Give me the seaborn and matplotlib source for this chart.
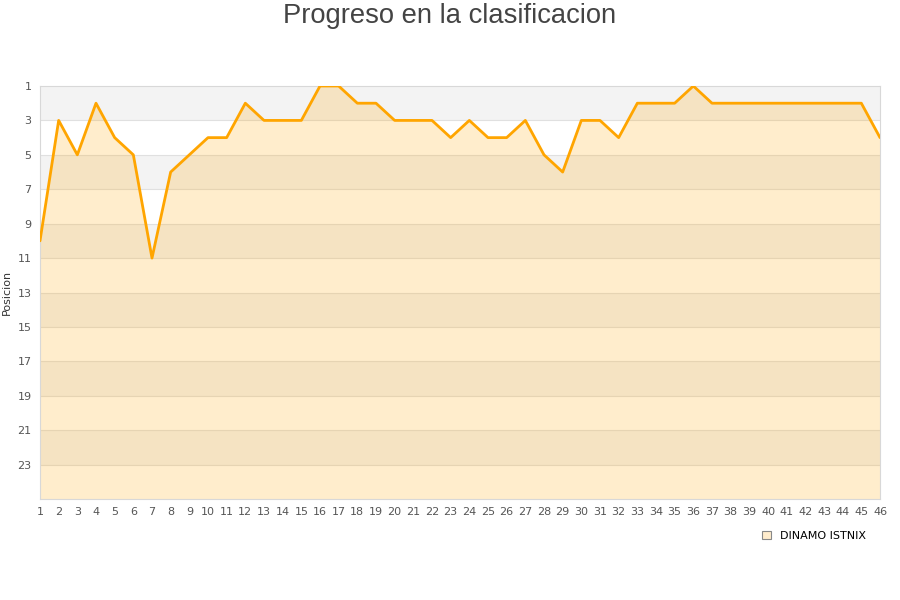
import matplotlib
matplotlib.use("Agg")
import matplotlib.pyplot as plt
import seaborn as sns
import pandas as pd
from matplotlib.patches import Patch

TITLE = "Progreso en la clasificacion"
TEAM = "DINAMO ISTNIX"
JORNADAS = list(range(1, 47))
POSICIONES = [10, 3, 5, 2, 4, 5, 11, 6, 5, 4,
              4, 2, 3, 3, 3, 1, 1, 2, 2, 3,
              3, 3, 4, 3, 4, 4, 3, 5, 6, 3,
              3, 4, 2, 2, 2, 1, 2, 2, 2, 2,
              2, 2, 2, 2, 2, 4]
Y_TICKS = list(range(1, 24, 2))


def main() -> None:
    df = pd.DataFrame({"jornada": JORNADAS, "posicion": POSICIONES})
    sns.set_style("white")
    plt.rcParams["font.family"] = ["DejaVu Sans"]

    fig = plt.figure(figsize=(9, 6), dpi=100)
    ax = fig.add_axes([40 / 900, 1 - 499 / 600, 840 / 900, 413 / 600])

    # alternating background bands
    for i, lo in enumerate(range(1, 25, 2)):
        if i % 2 == 0:
            ax.axhspan(lo, lo + 2, color="#f3f3f3", zorder=0, lw=0)
    for t in Y_TICKS[1:]:
        ax.axhline(t, color="#e0e0e0", lw=0.8, zorder=1)

    ax.fill_between(df["jornada"], df["posicion"], 25, color="orange",
                    alpha=0.2, lw=0, zorder=2)
    sns.lineplot(data=df, x="jornada", y="posicion", color="orange",
                 lw=2.0, ax=ax, zorder=3)

    ax.set_xlim(1, 46)
    ax.set_ylim(25, 1)
    ax.set_yticks(Y_TICKS)
    ax.set_xticks(JORNADAS)
    ax.tick_params(axis="both", labelsize=8, colors="#555555", length=0, pad=6)
    ax.set_xlabel("")
    ax.set_ylabel("Posicion", fontsize=8, color="#333333", labelpad=4)
    for side in ["top", "right", "left", "bottom"]:
        ax.spines[side].set_visible(True)
        ax.spines[side].set_color("#d8d8d8")

    fig.text(0.5, 1 - 16 / 600, TITLE, fontsize=19.7, color="#444444",
             ha="center", va="center", family="Liberation Sans")

    handle = Patch(facecolor="#ffeccc", edgecolor="#888888", lw=0.8)
    fig.legend([handle], [TEAM], loc="center left",
               bbox_to_anchor=(752 / 900, 1 - 536 / 600), frameon=False,
               fontsize=8, handlelength=0.8, handleheight=0.8,
               handletextpad=0.8, labelcolor="black")

    fig.savefig("out.png", dpi=100)


if __name__ == "__main__":
    main()
